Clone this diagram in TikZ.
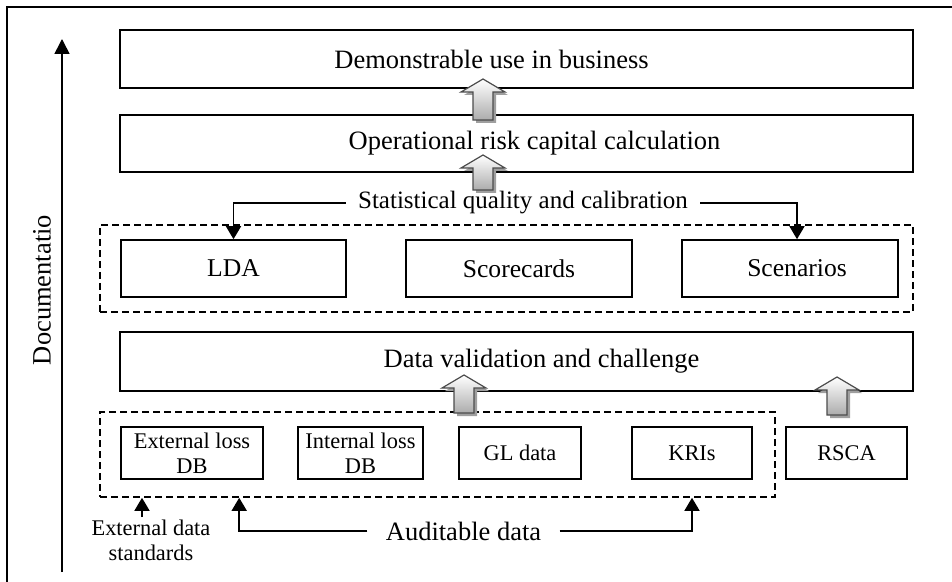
\documentclass[tikz,border=0pt]{standalone}
\usepackage{fontspec}
\setmainfont{Liberation Serif}
\usetikzlibrary{arrows.meta,positioning,calc}

% hollow block arrow pointing up: x, tail y, tip y
\newcommand{\liftarrow}[3]{%
  \fill[gray!75,shift={(3,3)}] (#1-10,#2) -- (#1-10,#3+13) -- (#1-22,#3+13) -- (#1,#3)
    -- (#1+22,#3+13) -- (#1+10,#3+13) -- (#1+10,#2) -- cycle;
  \path[blk] (#1-10,#2) -- (#1-10,#3+13) -- (#1-22,#3+13) -- (#1,#3)
    -- (#1+22,#3+13) -- (#1+10,#3+13) -- (#1+10,#2) -- cycle;}

\begin{document}
\begin{tikzpicture}[
 x=0.5pt,y=-0.5pt,
 box/.style={draw,line width=0.8pt,minimum width=396.5pt,minimum height=29pt,inner sep=0pt,font=\fontsize{13.25}{15}\selectfont},
 leaf/.style={draw,line width=0.8pt,minimum height=28.5pt,inner sep=0pt,font=\fontsize{12.8}{15}\selectfont},
 src/.style={draw,line width=0.8pt,minimum height=26pt,inner sep=0pt,align=center,font=\fontsize{11.2}{12.5}\selectfont},
 grp/.style={draw,line width=0.8pt,dash pattern=on 3.5pt off 2pt,inner sep=0pt},
 arr/.style={-{Triangle[length=6.5pt,width=7.5pt]},line width=0.8pt},
 blk/.style={draw=gray!60!black,line width=0.6pt,top color=white,bottom color=gray!65}
]
\useasboundingbox (0,0) rectangle (952,582);
\draw[line width=1pt] (952,7) -- (7,7) -- (7,582);

\node[box] (use) at (516.5,59) {\hspace*{-25pt}Demonstrable use in business};
\node[box,minimum height=28.5pt] (opcap) at (516.5,143.5) {Operational risk capital calculation\hspace*{-18pt}};

\node[grp,minimum width=406.5pt,minimum height=43.5pt] (models) at (506.5,268.5) {};
\node[leaf,minimum width=112.5pt] (lda) at (233.5,268.5) {LDA};
\node[leaf,minimum width=113pt] (score) at (519,268.5) {Scorecards};
\node[leaf,minimum width=108pt] (scen) at (790,268.5) {Scenarios\hspace*{-7pt}};
\node[font=\fontsize{12.5}{14}\selectfont,inner xsep=6pt] (stat) at (523,203) {Statistical quality and calibration};
\draw[arr] (stat.west) -| (lda.north);
\draw[arr] (stat.east) -| ([xshift=3.5pt]scen.north);

\node[box,minimum height=29.5pt] (valid) at (516.5,361.5) {Data validation and challenge\hspace*{-25pt}};
\node[grp,minimum width=337.5pt,minimum height=42.5pt] (data) at (437.5,454.5) {};
\node[src,minimum width=71pt] (extdb) at (192,453) {External loss\\DB};
\node[src,minimum width=62.5pt] (intdb) at (360.5,453) {Internal loss\\DB};
\node[src,minimum width=61pt] (gl) at (520,453) {GL data};
\node[src,minimum width=60pt] (kri) at (692,453) {KRIs};
\node[src,minimum width=60.5pt] (rsca) at (846.5,453) {RSCA};

\liftarrow{483}{120}{79}
\liftarrow{483}{190}{155}
\liftarrow{464}{413}{375}
\liftarrow{837}{415}{377}

\node[font=\fontsize{13.25}{15}\selectfont,inner xsep=9pt] (aud) at (463.5,531) {Auditable data};
\draw[arr] (aud.west) -| ([xshift=70pt]data.south west);
\draw[arr] (aud.east) -| (kri.south |- data.south);

\node[align=center,font=\fontsize{11.2}{12.5}\selectfont,inner sep=1pt] (extstd) at (151,540) {External data\\standards};
\draw[arr] ([xshift=-4.5pt]extstd.north) -- ([xshift=-4.5pt]extstd.north |- data.south);

\coordinate (dbot) at (62,572);
\coordinate (dtop) at (62,39);
\draw[arr,-{Triangle[length=7.5pt,width=7.5pt]}] (dbot) -- (dtop);
\node[rotate=90,font=\fontsize{13.25}{15}\selectfont] (doc) at (42,290) {Documentatio};
\end{tikzpicture}
\end{document}
